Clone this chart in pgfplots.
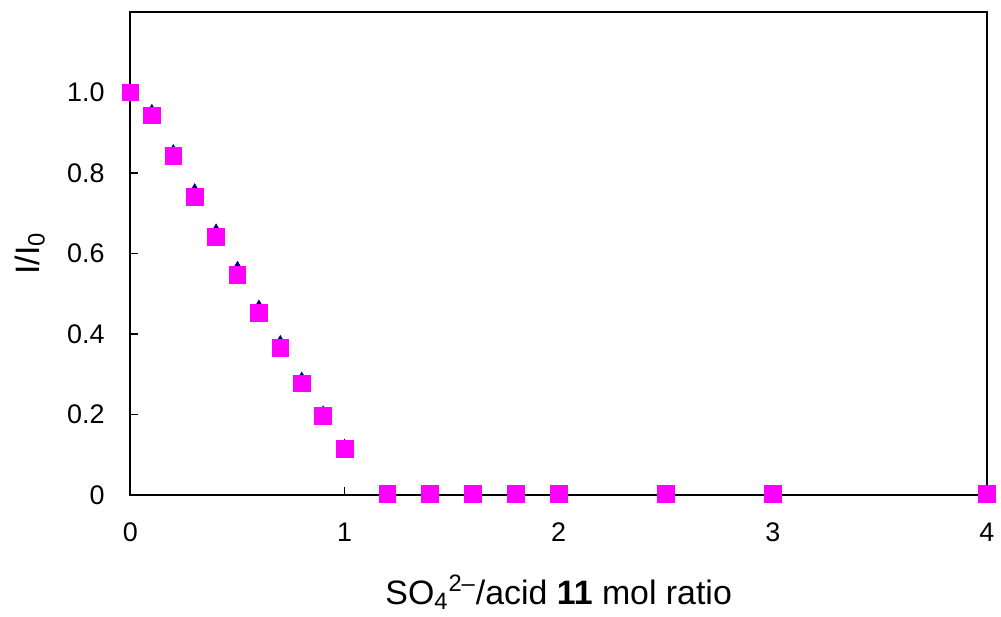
\documentclass[border=0pt]{standalone}
\usepackage{pgfplots}
\pgfplotsset{compat=1.18}
\usepackage{fontspec}
\setmainfont{Liberation Sans}
\begin{document}
\begin{tikzpicture}
\begin{axis}[
  name=ax,
  scale only axis,
  width=430pt, height=242.5pt,
  xmin=0, xmax=4, ymin=0, ymax=1.2,
  xtick={0,1,2,3,4},
  ytick={0,0.2,0.4,0.6,0.8,1.0},
  yticklabels={0,0.2,0.4,0.6,0.8,1.0},
  /pgf/number format/assume math mode=true,
  tick align=inside,
  major tick length=4pt,
  tick style={black, line width=0.6pt},
  xtick pos=bottom, ytick pos=left,
  axis line style={line width=1pt, black},
  ticklabel style={font=\fontsize{13.5}{16}\selectfont},
  yticklabel style={xshift=-9.5pt},
  xticklabel style={yshift=-10.5pt},
  xlabel={SO\textsubscript{4}\textsuperscript{2\textendash}/acid \textbf{11} mol ratio},
  ylabel={I/I\textsubscript{0}},
  label style={font=\fontsize{17}{20}\selectfont},
  xlabel style={at={(axis description cs:0.5,0)}, anchor=center, yshift=-49pt},
  ylabel style={at={(axis description cs:0,0.5)}, anchor=center, yshift=50.5pt},
  clip=false,
]
\addplot[only marks, mark=triangle*, mark size=3.6pt, color={rgb,255:red,0;green,0;blue,128}] coordinates {
(0,1.0) (0.1,0.952) (0.2,0.852) (0.3,0.755) (0.4,0.655) (0.5,0.562) (0.6,0.466) (0.7,0.378) (0.8,0.287) (0.9,0.203) (1.0,0.12)
(1.2,0.0) (1.4,0.0) (1.6,0.0) (1.8,0.0) (2.0,0.0) (2.5,0.0) (3.0,0.0) (4.0,0.0)
};
\addplot[only marks, mark=square*, mark size=4.2pt, color={rgb,255:red,255;green,0;blue,255}] coordinates {
(0,1.0) (0.1,0.943) (0.2,0.842) (0.3,0.740) (0.4,0.641) (0.5,0.547) (0.6,0.453) (0.7,0.366) (0.8,0.277) (0.9,0.196) (1.0,0.114)
(1.2,0.003) (1.4,0.003) (1.6,0.003) (1.8,0.003) (2.0,0.003) (2.5,0.003) (3.0,0.003) (4.0,0.003)
};
\end{axis}
\path (ax.south west) ++(-65.5pt,-59.5pt) coordinate (bl);
\path (ax.north east) ++(5pt,6pt) coordinate (tr);
\useasboundingbox (bl) rectangle (tr);
\end{tikzpicture}
\end{document}
